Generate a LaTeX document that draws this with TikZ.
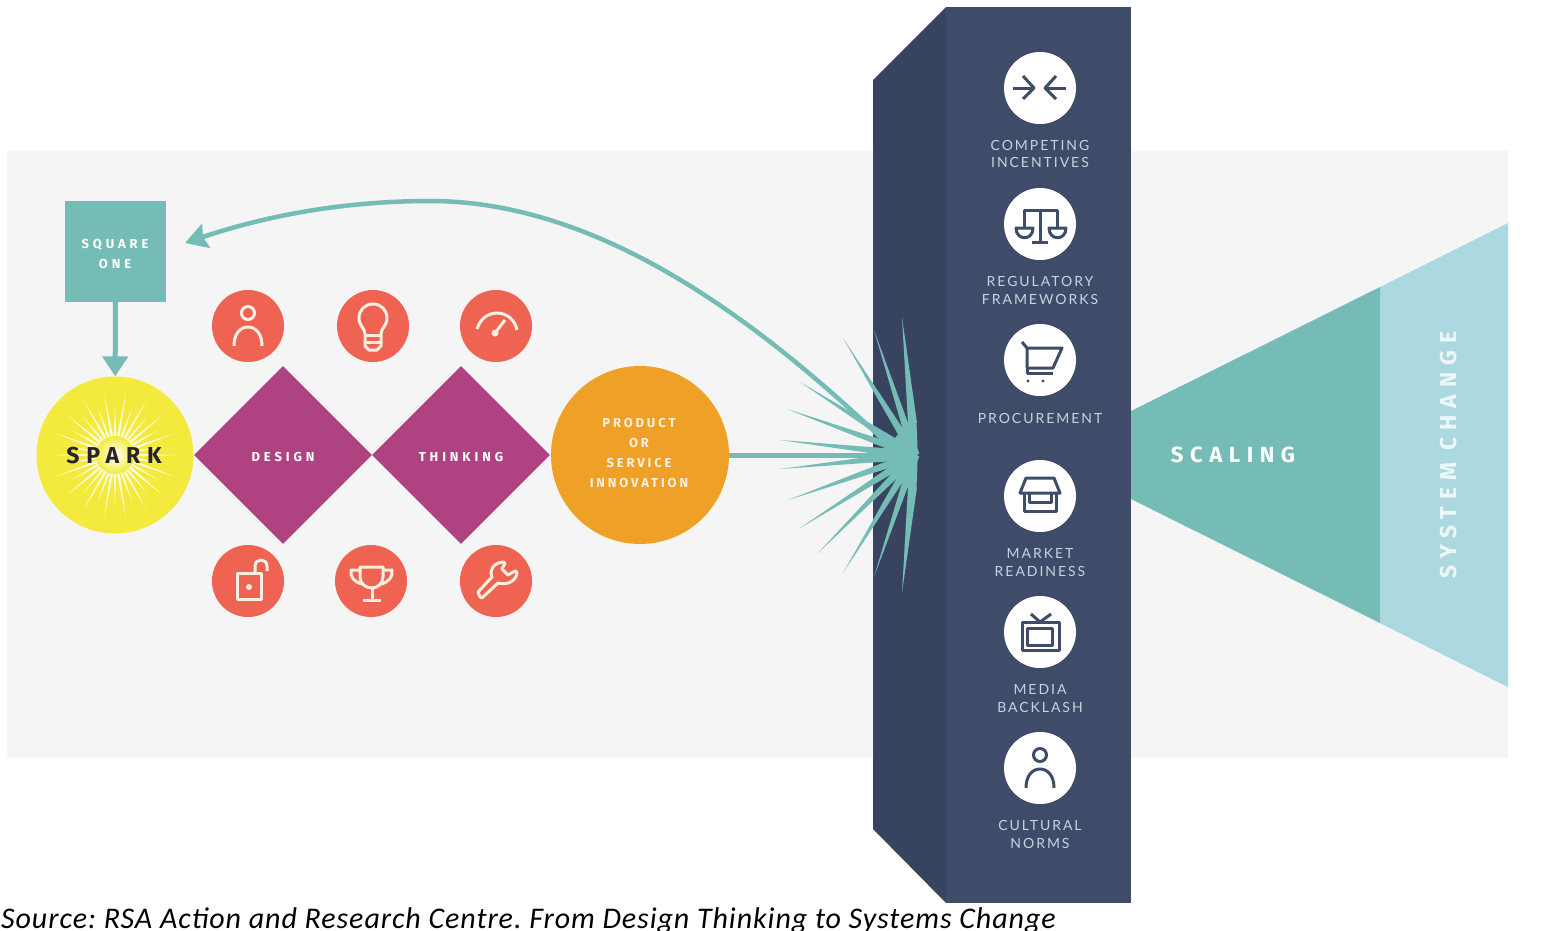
\documentclass[tikz,border=0pt]{standalone}
\usepackage{fontspec}
\setmainfont{Lato}
\newfontfamily\labelfont[LetterSpace=14]{Lato}
\newfontfamily\boldfont[LetterSpace=30]{Fira Sans}
\newfontfamily\prodfont[LetterSpace=22]{Fira Sans}
\newfontfamily\sourcefont[LetterSpace=3.1]{Carlito}
\usetikzlibrary{arrows.meta,calc,shapes.geometric}
\definecolor{band}{HTML}{F5F5F5}
\definecolor{barfront}{HTML}{3E4B69}
\definecolor{barside}{HTML}{38445F}
\definecolor{teal}{HTML}{75BCB7}
\definecolor{paleteal}{HTML}{ABD9DF}
\definecolor{plum}{HTML}{AF4280}
\definecolor{coral}{HTML}{EE6352}
\definecolor{amber}{HTML}{EFA127}
\definecolor{sun}{HTML}{F4EA3D}
\definecolor{cream}{HTML}{FDEFE0}
\definecolor{barlabel}{HTML}{CBD2DE}
\tikzset{
  link/.style={draw=teal,line width=5pt},
  disc/.style={circle,fill=coral,minimum size=72pt,inner sep=0},
  whitedisc/.style={circle,fill=white,minimum size=72pt,inner sep=0},
  creamline/.style={draw=cream,line width=3pt,line join=round},
  darkline/.style={draw=barfront,line width=3pt,line join=round},
  barcaption/.style={text=barlabel,align=center,inner sep=0,
    font=\labelfont\fontsize{14}{17.5}\selectfont},
  boldcaption/.style={text=white,align=center,inner sep=0,
    font=\boldfont\bfseries\fontsize{13}{20}\selectfont},
  rhomb/.style={diamond,aspect=1,fill=plum,minimum width=178pt,minimum height=178pt,inner sep=0,
    font=\boldfont\bfseries\fontsize{13}{13}\selectfont,text=white,text height=12pt,text depth=0pt},
  person/.pic={
    \draw (0,-13) circle (6.5pt);
    \draw (-14,20) .. controls (-14,8) and (-8,1) .. (0,1)
    .. controls (8,1) and (14,8) .. (14,20);
  }
}
\begin{document}
\begin{tikzpicture}[x=1pt,y=-1pt]
    \useasboundingbox (0,0) rectangle (1566,930);
    \fill[white] (0,0) rectangle (1566,930);
    \fill[band] (7,151) rectangle (1508,758);
    % scaling wedge
    \fill[paleteal] (1380,287) -- (1508,223) -- (1508,687) -- (1380,623) -- cycle;
    \fill[teal] (1131,411) -- (1380,287) -- (1380,623) -- (1131,499) -- cycle;
    \node[text=white,inner sep=0,font=\boldfont\bfseries\fontsize{22}{22}\selectfont] (scaling) at (1233,455) {SCALING};
    \node[rotate=90,text=white,opacity=.8,inner sep=0,font=\boldfont\bfseries\fontsize{23}{23}\selectfont] (syschange) at (1449,455) {SYSTEM CHANGE};
    % the bar
    \fill[barside] (873,80) -- (946,7) -- (946,903) -- (873,829) -- cycle;
    \fill[barfront] (946,7) rectangle (1131,903);
    % left part
    \node[fill=teal,minimum size=101pt,inner sep=0] (squareone) at (115.5,251) {};
    \node[boldcaption] (squaretext) at (115,254) {SQUARE\\ONE};
    \node[circle,fill=sun,minimum size=157pt,inner sep=0] (spark) at (115,455) {};
    \foreach \a [count=\i] in {0,10,...,350} {
      \pgfmathsetmacro\r{isodd(\i)?63:50}
      \fill[white,opacity=.8,shift={(115,455)}] (\a:\r) -- (\a+90:2) -- (\a-90:2) -- cycle;
    }
    \shade[inner color=white,outer color=sun] (115,455) circle (19pt);
    \node[text=black!85,inner sep=0,font=\boldfont\bfseries\fontsize{23}{23}\selectfont] (sparktext) at (114,456) {SPARK};
    \draw[link,-{Triangle[length=20pt,width=25pt]}] (squareone) -- (spark);
    \node[rhomb] (design) at (283,455) {DESIGN};
    \node[rhomb] (thinking) at (461,455) {THINKING};
    \node[circle,fill=amber,minimum size=178pt,inner sep=0] (product) at (640,455) {};
    \node[boldcaption,text=cream,font=\prodfont\bfseries\fontsize{13}{20}\selectfont] (producttext) at (639,452.5) {PRODUCT\\OR\\SERVICE\\INNOVATION};
    % red discs
    \node[disc] (who) at (248,326) {};
    \node[disc] (bulb) at (373,326) {};
    \node[disc] (gauge) at (496,326) {};
    \node[disc] (lock) at (248,581) {};
    \node[disc] (cup) at (371,581) {};
    \node[disc] (wrench) at (496,581) {};
    \pic[creamline] at (who) {person};
    \begin{scope}[shift={(373,326)},creamline]
    \draw (-8,8) .. controls (-8,2) and (-14,0) .. (-14,-8)
    .. controls (-14,-16) and (-8,-22) .. (0,-22)
    .. controls (8,-22) and (14,-16) .. (14,-8)
    .. controls (14,0) and (8,2) .. (8,8) -- (8,20) -- (4,24) -- (-4,24) -- (-8,20) -- cycle;
    \draw (-8,9) -- (8,9);
    \draw (-8,16) -- (8,16);
    \end{scope}
    \begin{scope}[shift={(496,326)},creamline]
    \draw (-19,3) .. controls (-16,-7) and (-8,-13) .. (1,-13)
    .. controls (11,-13) and (19,-6) .. (21,4);
    \draw (-1,7) -- (9,-6);
    \fill[cream] (-1,7) circle (3.5pt);
    \end{scope}
    \begin{scope}[shift={(248,581)},creamline]
    \draw (-11,-8) rectangle (13,18);
    \fill[cream] (1,6) circle (3pt);
    \draw (7,-8) -- (7,-15) .. controls (7,-23) and (19,-23) .. (19,-15) -- (19,-10);
    \end{scope}
    \begin{scope}[shift={(371,581)},creamline]
    \draw (-11,-14) -- (12,-14) -- (12,-4) .. controls (12,3) and (6,7) .. (1,7)
    .. controls (-5,7) and (-11,3) .. (-11,-4) -- cycle;
    \draw (-11,-11) -- (-20,-11) .. controls (-21,-4) and (-17,1) .. (-9,3);
    \draw (12,-11) -- (21,-11) .. controls (22,-4) and (18,1) .. (10,3);
    \draw (1,7) -- (1,19);
    \draw (-8,19) -- (10,19);
    \end{scope}
    \begin{scope}[shift={(496,581)},creamline]
    \draw (-18,11) -- (-4,-4) .. controls (-7,-12) and (-2,-18) .. (7,-19)
    -- (9,-18) -- (6,-12) -- (12,-6) -- (19,-10) -- (21,-9)
    .. controls (21,-1) and (12,5) .. (2,2) -- (-13,16) .. controls (-14,17) and (-15,17) .. (-16,16) -- cycle;
    \end{scope}
    % burst
    \coordinate (core) at (899,455);
    \coordinate (focus) at (915,455);
    \coordinate (bendtop) at (430,201);
    \coordinate (backtip) at (185,243);
    \draw[link] (product) -- (core);
    \foreach \tx/\ty in {843/338,800/382,787/409,780/440,780/469,788/500,800/528,818/553,843/573,874/577,874/330} {
      \fill[teal] (\tx,\ty) -- ($(focus)!4.5pt!90:(\tx,\ty)$) -- ($(focus)!4.5pt!-90:(\tx,\ty)$) -- cycle;
    }
    \fill[teal] (902,317) -- (917,423) -- (908,423) -- cycle;
    \fill[teal] (902,593) -- (917,487) -- (908,487) -- cycle;
    \fill[teal] (907,424) -- (916,418) .. controls (918,440) and (918,470) .. (916,492)
    -- (907,486) -- (888,464) -- (883,455) -- (888,446) -- cycle;
    \draw[draw=teal,line width=4.5pt] (core) .. controls (760,320) and (600,201) .. (bendtop);
    \draw[draw=teal,line width=4.5pt,-{Stealth[inset=3pt,length=22pt,width=25pt]}] (bendtop) .. controls (340,201) and (262,217) .. (backtip);
    % white discs on the bar
    \node[whitedisc] (compete) at (1040,88) {};
    \node[whitedisc] (scales) at (1040,224) {};
    \node[whitedisc] (cart) at (1040,360) {};
    \node[whitedisc] (shop) at (1040,496) {};
    \node[whitedisc] (telly) at (1040,632) {};
    \node[whitedisc] (culture) at (1040,768) {};
    \begin{scope}[shift={(1040,88)},darkline]
    \draw (-27,0) -- (-6,0);
    \draw (-17,-12) -- (-6,0) -- (-17,11);
    \draw (26,0) -- (5,0);
    \draw (16,-12) -- (5,0) -- (16,11);
    \end{scope}
    \begin{scope}[shift={(1040,224)},darkline]
    \draw (-16,4) -- (-16,-14) -- (17,-14) -- (17,4);
    \draw (0,-14) -- (0,18);
    \draw (-8,18) -- (8,18);
    \draw (-24,4) -- (-7,4) .. controls (-7,17) and (-24,17) .. (-24,4) -- cycle;
    \draw (9,4) -- (26,4) .. controls (26,17) and (9,17) .. (9,4) -- cycle;
    \end{scope}
    \begin{scope}[shift={(1040,360)},darkline]
    \draw (-18,-18) -- (-13,-12) -- (22,-12) -- (13,8) -- (-13,8) -- (-13,-12);
    \draw (-13,8) -- (-13,13) -- (13,13);
    \fill[barfront] (-12,21) circle (1.7pt);
    \fill[barfront] (3,21) circle (1.7pt);
    \end{scope}
    \begin{scope}[shift={(1040,496)},darkline]
    \draw (-14,-18) -- (14,-18) -- (20,-3) -- (-20,-3) -- cycle;
    \draw (-16,-3) -- (-16,15) -- (16,15) -- (16,-3);
    \draw (-11,-3) -- (-11,6) -- (11,6) -- (11,-3);
    \end{scope}
    \begin{scope}[shift={(1040,632)},darkline]
    \draw (-18,-10) rectangle (19,18);
    \draw (-13,-4) rectangle (12,13);
    \draw (-9,-18) -- (0,-10) -- (11,-18);
    \end{scope}
    \pic[darkline] at (culture) {person};
    % bar captions
    \node[barcaption] (competetext) at (1040,154) {COMPETING\\INCENTIVES};
    \node[barcaption] (scalestext) at (1040,290.5) {REGULATORY\\FRAMEWORKS};
    \node[barcaption] (carttext) at (1040,418) {PROCUREMENT};
    \node[barcaption] (shoptext) at (1040,562.5) {MARKET\\READINESS};
    \node[barcaption] (tellytext) at (1040,698.5) {MEDIA\\BACKLASH};
    \node[barcaption] (culturetext) at (1040,834.5) {CULTURAL\\NORMS};
    % source line
    \node[anchor=base west,inner sep=0,text=black,font=\sourcefont\itshape\frenchspacing\fontsize{30}{30}\selectfont] (source) at (1,928.5) {Source: RSA Action and Research Centre. From Design Thinking to Systems Change};
\end{tikzpicture}
\end{document}
